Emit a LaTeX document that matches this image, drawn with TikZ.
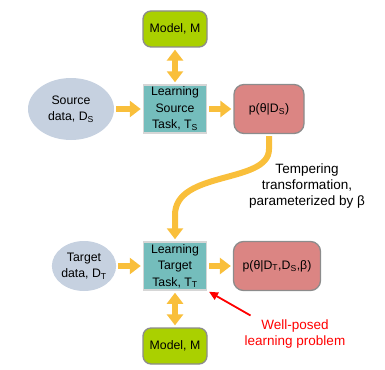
\documentclass[tikz,border=0pt]{standalone}
\usepackage{fontspec}
\setmainfont{Liberation Sans}
\usetikzlibrary{positioning}
\usetikzlibrary{arrows.meta}
\usetikzlibrary{shapes.geometric}

\definecolor{modelgreen}{HTML}{AAD000}
\definecolor{taskteal}{HTML}{74BDBC}
\definecolor{postpink}{HTML}{DB8583}
\definecolor{datablue}{HTML}{C6D1E0}
\definecolor{flowyellow}{HTML}{F9BF3B}
\definecolor{edgegray}{HTML}{8C8C8C}
\definecolor{edgelight}{HTML}{D6D6D6}

\tikzset{
  every node/.style={font=\fontsize{12.3}{16.5}\selectfont, align=center, inner sep=0pt},
  note/.style={font=\fontsize{13.5}{16}\selectfont},
  modelbox/.style={draw=edgegray, line width=1.3pt, fill=modelgreen, rounded corners=8pt,
    minimum width=64pt, minimum height=36pt},
  taskbox/.style={draw=edgelight, line width=1.5pt, fill=taskteal,
    minimum width=63pt, minimum height=48pt},
  postbox/.style={draw=edgegray, line width=1.3pt, fill=postpink, rounded corners=10pt,
    minimum height=49pt},
  databox/.style={ellipse, fill=datablue},
  flow/.style={draw=flowyellow, line width=6pt, -{Triangle[width=16pt,length=11pt]},
    shorten <=2pt, shorten >=2pt},
  flowboth/.style={flow, {Triangle[width=16pt,length=11pt]}-{Triangle[width=16pt,length=11pt]}},
}

\begin{document}
\begin{tikzpicture}[x=1pt,y=-1pt]
\useasboundingbox (0,0) rectangle (385,369);
\def\xtask{175}
\def\ysrc{109}
\def\ytgt{266}

% source row
\node[modelbox] (Msrc) at (\xtask,29) {Model, M};
\node[taskbox] (Lsrc) at (\xtask,\ysrc) {Learning\\Source\\Task, T\textsubscript{S}};
\node[databox, minimum width=86pt, minimum height=62pt] (Dsrc) at (71,\ysrc) {Source\\data, D\textsubscript{S}};
\node[postbox, minimum width=70pt] (Psrc) at (269,\ysrc) {p(θ|D\textsubscript{S})};

% target row
\node[taskbox] (Ltgt) at (\xtask,\ytgt) {Learning\\Target\\Task, T\textsubscript{T}};
\node[databox, minimum width=61pt, minimum height=50pt] (Dtgt) at (84,\ytgt) {Target\\data, D\textsubscript{T}};
\node[postbox, minimum width=87pt] (Ptgt) at (277,\ytgt) {p(θ|D\textsubscript{T},D\textsubscript{S},β)};
\node[modelbox] (Mtgt) at (\xtask,346) {Model, M};

\node[note] (temper) at (307,186) {Tempering\\transformation,\\parameterized by β};
\node[note, text=red] (wellposed) at (295,334) {Well-posed\\learning problem};

\draw[flowboth] (Msrc) -- (Lsrc);
\draw[flow] (Dsrc) -- (Lsrc);
\draw[flow] (Lsrc) -- (Psrc);
\draw[flow] (Psrc.south) -- ++(0,15) .. controls +(0,35) and +(0,-45) .. (\xtask,215) -- (Ltgt.north);

\draw[flowboth] (Ltgt) -- (Mtgt);
\draw[flow] (Dtgt) -- (Ltgt);
\draw[flow] (Ltgt) -- (Ptgt);

\draw[red, line width=1.8pt, -{Triangle[width=8pt,length=9pt]}, shorten >=2pt]
  (wellposed.north west) ++(6,-4) -- (Ltgt.south east);
\end{tikzpicture}
\end{document}
